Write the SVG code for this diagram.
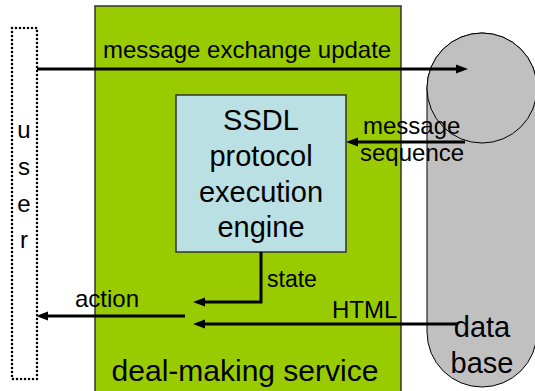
<svg xmlns="http://www.w3.org/2000/svg" width="535" height="391" viewBox="0 0 535 391">
<style>
text{font-family:"Liberation Sans",Arial,sans-serif;fill:#000}
.s24{font-size:24px}
.s29{font-size:29px}
.c{text-anchor:middle}
.ln{stroke:#000;stroke-width:3;fill:none}
</style>
<defs>
<marker id="ah" markerUnits="userSpaceOnUse" markerWidth="14" markerHeight="10" refX="3" refY="5" orient="auto">
<path d="M0,0.5 L12,5 L0,9.5 z" fill="#000"/>
</marker>
</defs>
<rect width="535" height="391" fill="#fff"/>
<g id="service">
<rect x="95" y="6" width="306" height="400" fill="#99CC00" stroke="#333" stroke-width="1.5"/>
<text class="s29 c" x="245" y="381" style="font-size:30px">deal-making service</text>
</g>
<g id="database">
<rect x="427" y="33" width="110" height="354" rx="55" ry="55" fill="#C0C0C0" stroke="#000" stroke-width="1"/>
<circle cx="482" cy="88" r="55" fill="#C0C0C0" stroke="#000" stroke-width="1"/>
<text class="s29 c" x="482" y="337">data</text>
<text class="s29 c" x="482" y="373">base</text>
</g>
<g id="user">
<rect x="12" y="28" width="25" height="351" fill="none" stroke="#000" stroke-width="2.5" stroke-dasharray="0 4" stroke-linecap="round"/>
<text class="s24 c" x="24" y="138">u</text>
<text class="s24 c" x="24" y="175">s</text>
<text class="s24 c" x="24" y="212">e</text>
<text class="s24 c" x="24" y="248">r</text>
</g>
<g id="engine">
<rect x="176" y="95" width="170" height="157" fill="#BBE0E3" stroke="#333" stroke-width="1.5"/>
<text class="s29 c" x="261" y="130">SSDL</text>
<text class="s29 c" x="261" y="166">protocol</text>
<text class="s29 c" x="261" y="202">execution</text>
<text class="s29 c" x="261" y="237">engine</text>
</g>
<g id="connectors">
<path class="ln" d="M37,69 H459" marker-end="url(#ah)"/>
<text class="s24" x="103" y="58">message exchange update</text>
<path class="ln" d="M465,142 H355" marker-end="url(#ah)"/>
<text class="s24" x="363" y="134">message</text>
<text class="s24" x="360" y="161">sequence</text>
<path class="ln" d="M261,252 V302 H202" marker-end="url(#ah)"/>
<text class="s24" x="267" y="287" style="font-size:23px">state</text>
<path class="ln" d="M458,324 H202" marker-end="url(#ah)"/>
<text class="s24" x="332" y="318">HTML</text>
<path class="ln" d="M185,316 H45" marker-end="url(#ah)"/>
<text class="s24" x="75" y="307">action</text>
</g>
</svg>
